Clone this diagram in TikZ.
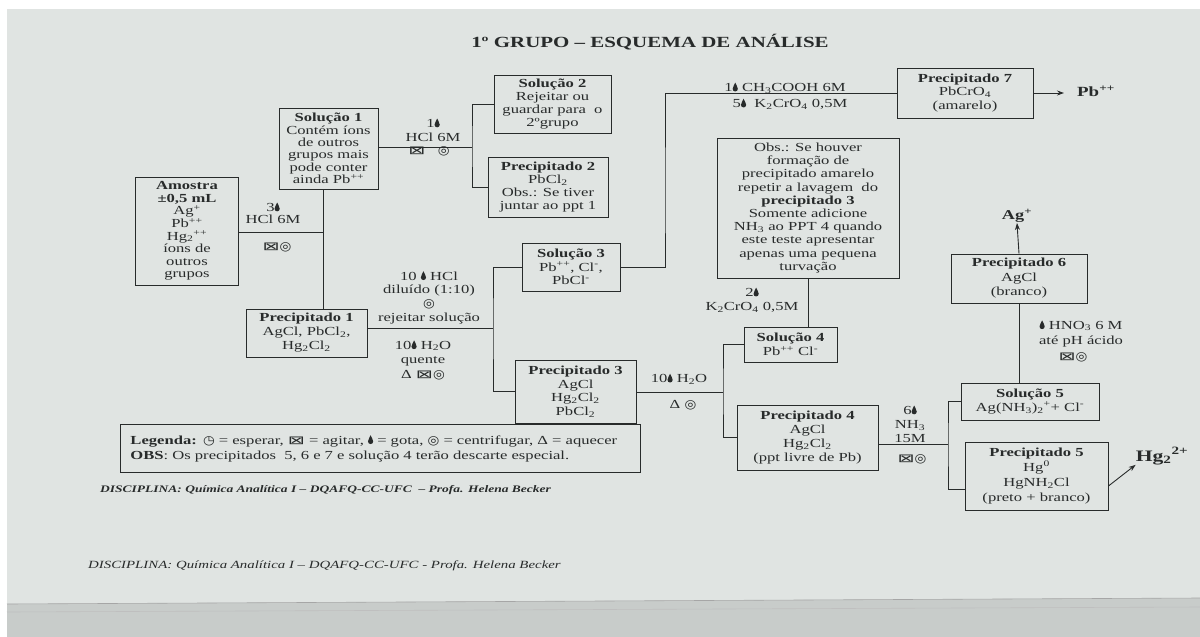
\documentclass[tikz,border=0pt]{standalone}
\usepackage{fontspec}
\setmainfont{Liberation Serif}[FakeStretch=1.35]
\newfontfamily\symA{DejaVu Sans}[FakeStretch=1.75,Scale=0.95]
\newfontfamily\symB{DejaVu Sans}[FakeStretch=1.1,Scale=1.0]
\usetikzlibrary{arrows.meta,calc}
\definecolor{paper}{RGB}{224,228,226}
\definecolor{paperdark}{RGB}{200,204,202}
\definecolor{ink}{RGB}{40,43,43}
\newcommand\gota{\begin{pgfpicture}\pgfsetfillcolor{ink}%
\pgfpathmoveto{\pgfpoint{2.6pt}{8.8pt}}%
\pgfpathcurveto{\pgfpoint{3.1pt}{6.8pt}}{\pgfpoint{5.2pt}{4.9pt}}{\pgfpoint{5.2pt}{2.6pt}}%
\pgfpathcurveto{\pgfpoint{5.2pt}{1.0pt}}{\pgfpoint{4.0pt}{0pt}}{\pgfpoint{2.6pt}{0pt}}%
\pgfpathcurveto{\pgfpoint{1.2pt}{0pt}}{\pgfpoint{0pt}{1.0pt}}{\pgfpoint{0pt}{2.6pt}}%
\pgfpathcurveto{\pgfpoint{0pt}{4.9pt}}{\pgfpoint{2.1pt}{6.8pt}}{\pgfpoint{2.6pt}{8.8pt}}%
\pgfpathclose\pgfusepath{fill}\end{pgfpicture}}
\newcommand\agit{{\symA ⊠}}
\newcommand\cent{{\symB ◎}}
\newcommand\espr{{\symB ◷}}
\newcommand\mysub[1]{\textsubscript{#1}}
\newcommand\mysup[1]{\textsuperscript{#1}}
\tikzset{
  box/.style={draw=ink, line width=0.9pt, align=center, inner sep=0pt, text=ink},
  lbl/.style={align=center, inner sep=0pt, text=ink},
  con/.style={draw=ink, line width=0.9pt},
  arr/.style={con, -{Stealth[length=7pt,width=5pt]}},
}
\newcommand\fs[1]{\fontsize{12.3}{#1}\selectfont}
\begin{document}
\begin{tikzpicture}[x=1pt,y=-1pt]
\useasboundingbox (0,0) rectangle (1200,637);
\fill[white] (0,0) rectangle (1200,637);
\fill[paper] (7,9) rectangle (1200,637);
\fill[paperdark] (7,604) -- (1200,598) -- (1200,637) -- (7,637) -- cycle;
\draw[gray!70, line width=0.6pt] (7,604) -- (1200,598);
\draw[gray!50, line width=0.6pt] (7,612) -- (1200,607);

% title
\node[lbl, font=\fontsize{15.5}{17}\selectfont\bfseries] (title) at (650,42) {1º GRUPO – ESQUEMA DE ANÁLISE};

% boxes
\node[box, minimum width=103pt, minimum height=108pt, font=\fs{12.6}] (amostra) at (187,231)
  {\textbf{Amostra}\\\textbf{±0,5 mL}\\Ag\mysup{+}\\Pb\mysup{++}\\Hg\mysub{2}\mysup{++}\\íons de\\outros\\grupos};
\node[box, minimum width=99pt, minimum height=81pt, font=\fs{12.4}] (sol1) at (328.5,148.5)
  {\textbf{Solução 1}\\Contém íons\\de outros\\grupos mais\\pode conter\\ainda Pb\mysup{++}};
\node[box, minimum width=117pt, minimum height=58pt, font=\fs{12.7}] (sol2) at (552.5,104)
  {\textbf{Solução 2}\\Rejeitar ou\\guardar para\ \ o\\2ºgrupo};
\node[box, minimum width=120pt, minimum height=60pt, font=\fs{13}] (ppt2) at (548,187)
  {\textbf{Precipitado 2}\\PbCl\mysub{2}\\Obs.: Se tiver\\juntar ao ppt 1};
\node[box, minimum width=121pt, minimum height=48pt, font=\fs{14}] (ppt1) at (306.5,333)
  {\textbf{Precipitado 1}\\AgCl, PbCl\mysub{2},\\Hg\mysub{2}Cl\mysub{2}};
\node[box, minimum width=98pt, minimum height=48pt, font=\fs{13.5}] (sol3) at (571,267)
  {\textbf{Solução 3}\\Pb\mysup{++}, Cl\mysup{-},\\PbCl\mysup{-}};
\node[box, minimum width=121pt, minimum height=63pt, font=\fs{13.7}] (ppt3) at (575.5,391.5)
  {\textbf{Precipitado 3}\\AgCl\\Hg\mysub{2}Cl\mysub{2}\\PbCl\mysub{2}};
\node[box, minimum width=182pt, minimum height=140pt, font=\fs{13.2}] (obs) at (808,208)
  {Obs.: Se houver\\formação de\\precipitado amarelo\\repetir a lavagem\ \ do\\\textbf{precipitado 3}\\Somente adicione\\NH\mysub{3} ao PPT 4 quando\\este teste apresentar\\apenas uma pequena\\turvação};
\node[box, minimum width=136pt, minimum height=50pt, font=\fs{13.5}] (ppt7) at (965,93)
  {\textbf{Precipitado 7}\\PbCrO\mysub{4}\\(amarelo)};
\node[box, minimum width=93pt, minimum height=35pt, font=\fs{14}] (sol4) at (790.5,344.5)
  {\textbf{Solução 4}\\Pb\mysup{++} Cl\mysup{-}};
\node[box, minimum width=141pt, minimum height=65pt, font=\fs{14.3}] (ppt4) at (807.5,437.5)
  {\textbf{Precipitado 4}\\AgCl\\Hg\mysub{2}Cl\mysub{2}\\(ppt livre de Pb)};
\node[box, minimum width=138pt, minimum height=37pt, font=\fs{13.5}] (sol5) at (1030,401.5)
  {\textbf{Solução 5}\\Ag(NH\mysub{3})\mysub{2}\mysup{+}+ Cl\mysup{-}};
\node[box, minimum width=143pt, minimum height=68pt, font=\fs{15.3}] (ppt5) at (1036.5,476)
  {\textbf{Precipitado 5}\\Hg\mysup{0}\\HgNH\mysub{2}Cl\\(preto + branco)};
\node[box, minimum width=136pt, minimum height=49pt, font=\fs{14.5}] (ppt6) at (1019,278.5)
  {\textbf{Precipitado 6}\\AgCl\\(branco)};

% ion labels
\node[lbl, font=\fontsize{14}{15}\selectfont\bfseries] (pbion) at (1096,91) {Pb\mysup{++}};
\node[lbl, font=\fontsize{13.5}{15}\selectfont\bfseries] (agion) at (1017,216) {Ag\mysup{+}};
\node[lbl, font=\fontsize{16}{18}\selectfont\bfseries] (hgion) at (1162,456) {Hg\mysub{2}\mysup{2+}};

% reagent labels
\node[lbl, font=\fs{12}] (t1) at (273,213) {3\gota\\HCl 6M};
\node[lbl, font=\fs{12}] (t1b) at (277,247) {\agit\cent};
\node[lbl, font=\fs{14}] (t2) at (433,130) {1\gota\\HCl 6M};
\node[lbl, font=\fs{12}] (t2b) at (429,151) {\agit\quad\cent};
\node[lbl, font=\fs{13.7}] (t3) at (429,297.5) {10 \gota\ HCl\\diluído (1:10)\\\cent\\rejeitar solução};
\node[lbl, font=\fs{14.5}] (t4) at (423,360) {10\gota\ H\mysub{2}O\\quente\\Δ \agit\cent};
\node[lbl, font=\fs{12}] (t5a) at (785,88) {1\gota\ CH\mysub{3}COOH 6M};
\node[lbl, font=\fs{12}] (t5b) at (790,104) {5\gota\ \ K\mysub{2}CrO\mysub{4} 0,5M};
\node[lbl, font=\fs{14}] (t6) at (752,300) {2\gota\\K\mysub{2}CrO\mysub{4} 0,5M};
\node[lbl, font=\fs{12}] (t7a) at (679,379) {10\gota\ H\mysub{2}O};
\node[lbl, font=\fs{12}] (t7b) at (683,405) {Δ \cent};
\node[lbl, font=\fs{14}] (t8) at (910,424) {6\gota\\NH\mysub{3}\\15M};
\node[lbl, font=\fs{12}] (t8b) at (912,459) {\agit\cent};
\node[lbl, font=\fs{15}] (t9) at (1081,333.5) {\gota\ HNO\mysub{3} 6 M\\até pH ácido};
\node[lbl, font=\fs{12}] (t9b) at (1073,357) {\agit\cent};

% connectors
\coordinate (j1) at (323,232);
\draw[con] (amostra.east |- j1) -- (j1);
\draw[con] (j1 |- sol1.south) -- (j1 |- ppt1.north);
\coordinate (j2) at (472,147);
\draw[con] (sol1.east |- j2) -- (j2);
\draw[con] (sol2.west) -| (j2) |- (ppt2.west);
\coordinate (j3) at (493,328);
\draw[con] (ppt1.east |- j3) -- (j3);
\draw[con] (sol3.west) -| (j3) |- (ppt3.west);
\coordinate (j4) at (665,200);
\draw[con] (sol3.east) -| (j4) |- (ppt7.west);
\draw[arr, shorten >=13pt] (ppt7.east) -- (ppt7.east -| pbion.west);
\draw[con] (obs.south) -- (obs.south |- sol4.north);
\coordinate (j5) at (723,392);
\draw[con] (ppt3.east |- j5) -- (j5);
\draw[con] (sol4.west) -| (j5) |- (ppt4.west);
\coordinate (j6) at (948,444);
\coordinate (p5in) at ($(ppt5.south west)+(0,-21)$);
\draw[con] (ppt4.east |- j6) -- (j6);
\draw[con] (sol5.west) -| (j6) |- (p5in);
\draw[con] (ppt6.south) -- (ppt6.south |- sol5.north);
\draw[arr] (ppt6.north) -- (agion.south);
\coordinate (p5out) at ($(ppt5.east)+(0,10)$);
\draw[arr] (p5out) -- (hgion.south west);

% legend
\node[box, text width=500pt, inner xsep=10pt, minimum height=48pt, anchor=north west, align=left, font=\fs{15}] (leg) at (120,424)
  {\textbf{Legenda:} \espr{} = esperar, \agit{} = agitar, \gota{} = gota, \cent{} = centrifugar, Δ = aquecer\\
   \textbf{OBS}: Os precipitados\ \ 5, 6 e 7 e solução 4 terão descarte especial.};

% footers
\node[lbl, anchor=west, font=\fontsize{10}{12}\selectfont\bfseries\itshape] (foot1) at (100,490)
  {DISCIPLINA: Química Analítica I – DQAFQ-CC-UFC\ \ – Profa. Helena Becker};
\node[lbl, anchor=west, font=\fontsize{11}{13}\selectfont\itshape] (foot2) at (88,566)
  {DISCIPLINA: Química Analítica I – DQAFQ-CC-UFC - Profa. Helena Becker};
\end{tikzpicture}
\end{document}
